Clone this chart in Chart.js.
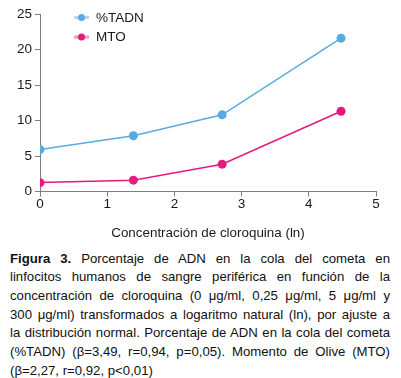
<!DOCTYPE html>
<html>
<head>
<meta charset="utf-8">
<script src="https://cdn.jsdelivr.net/npm/chart.js@4"></script>
<style>
  html, body { margin: 0; padding: 0; background: #fff; }
  body { width: 401px; height: 378px; position: relative; overflow: hidden; }
  #wrap { position: absolute; left: 0; top: 0; width: 401px; height: 242px; }
  #caption { position: absolute; left: 10px; top: 249.5px; width: 380px;
    font-family: "Liberation Sans", Arial, sans-serif; font-size: 13.2px; line-height: 18.7px; color: #111; }
  #caption .l { text-align: justify; text-align-last: justify; white-space: nowrap; }
  #caption .l.last { text-align-last: left; }
</style>
</head>
<body>
<div id="wrap"><canvas id="c" width="401" height="242"></canvas></div>
<div id="caption">
  <div class="l"><b>Figura 3.</b> Porcentaje de ADN en la cola del cometa en</div>
  <div class="l">linfocitos humanos de sangre periférica en función de la</div>
  <div class="l">concentración de cloroquina (0 μg/ml, 0,25 μg/ml, 5 μg/ml y</div>
  <div class="l">300 μg/ml) transformados a logaritmo natural (ln), por ajuste a</div>
  <div class="l">la distribución normal. Porcentaje de ADN en la cola del cometa</div>
  <div class="l">(%TADN) (β=3,49, r=0,94, p=0,05). Momento de Olive (MTO)</div>
  <div class="l last">(β=2,27, r=0,92, p&lt;0,01)</div>
</div>
<script>
const xValues = [0, 1.39, 2.71, 4.48];
const tadnValues = [5.9, 7.85, 10.8, 21.6];
const mtoValues = [1.25, 1.6, 3.85, 11.3];
const seriesNames = ['%TADN', 'MTO'];
const xTitle = 'Concentración de cloroquina (ln)';

const BLUE = '#58abe0';
const MAGENTA = '#e5197e';
const AXIS = '#808080';
const FONT = '"Liberation Sans", Arial, sans-serif';

function pts(ys) { return xValues.map((x, i) => ({ x: x, y: ys[i] })); }

const legendPlugin = {
  id: 'manualLegend',
  afterDraw(chart) {
    const ctx = chart.ctx;
    const left = chart.chartArea.left;
    const items = chart.data.datasets;
    ctx.save();
    items.forEach((ds, i) => {
      const y = 17.5 + i * 19.5;
      const x0 = left + 34;
      ctx.globalAlpha = 0.45;
      ctx.strokeStyle = ds.borderColor;
      ctx.lineWidth = 3;
      ctx.beginPath(); ctx.moveTo(x0, y); ctx.lineTo(x0 + 15, y); ctx.stroke();
      ctx.globalAlpha = 1;
      ctx.fillStyle = ds.borderColor;
      ctx.beginPath(); ctx.arc(x0 + 7.5, y, 3.5, 0, Math.PI * 2); ctx.fill();
      ctx.fillStyle = '#1a1a1a';
      ctx.font = '13.5px ' + FONT;
      ctx.textBaseline = 'middle';
      ctx.textAlign = 'left';
      ctx.fillText(ds.label, x0 + 22, y + 0.5);
    });
    ctx.restore();
  }
};

new Chart(document.getElementById('c'), {
  type: 'line',
  data: {
    datasets: [
      { label: seriesNames[0], data: pts(tadnValues), borderColor: BLUE, backgroundColor: BLUE,
        borderWidth: 1.5, pointRadius: 4.5, pointBorderWidth: 0, pointBackgroundColor: BLUE, tension: 0 },
      { label: seriesNames[1], data: pts(mtoValues), borderColor: MAGENTA, backgroundColor: MAGENTA,
        borderWidth: 1.5, pointRadius: 4.5, pointBorderWidth: 0, pointBackgroundColor: MAGENTA, tension: 0 }
    ]
  },
  options: {
    responsive: false,
    devicePixelRatio: 1,
    animation: false,
    layout: { padding: { left: 0, right: 25, top: 14, bottom: 0 } },
    plugins: { legend: { display: false }, tooltip: { enabled: false } },
    scales: {
      x: {
        type: 'linear', min: 0, max: 5,
        afterFit(s) { s.height = 50.5; },
        ticks: { stepSize: 1, padding: 0, color: '#1a1a1a', font: { family: FONT, size: 13.5 } },
        grid: { drawOnChartArea: false, drawTicks: true, tickLength: 5, color: AXIS, lineWidth: 1 },
        border: { display: true, color: AXIS, width: 1 },
        title: { display: true, text: xTitle, color: '#1a1a1a', font: { family: FONT, size: 13.4 }, padding: { top: 0, bottom: 1 } }
      },
      y: {
        min: 0, max: 25,
        afterFit(s) { s.width = 40; },
        ticks: { stepSize: 5, padding: 3, color: '#1a1a1a', font: { family: FONT, size: 13.5 } },
        grid: { drawOnChartArea: false, drawTicks: true, tickLength: 5, color: AXIS, lineWidth: 1 },
        border: { display: true, color: AXIS, width: 1 }
      }
    }
  },
  plugins: [legendPlugin]
});
</script>
</body>
</html>
